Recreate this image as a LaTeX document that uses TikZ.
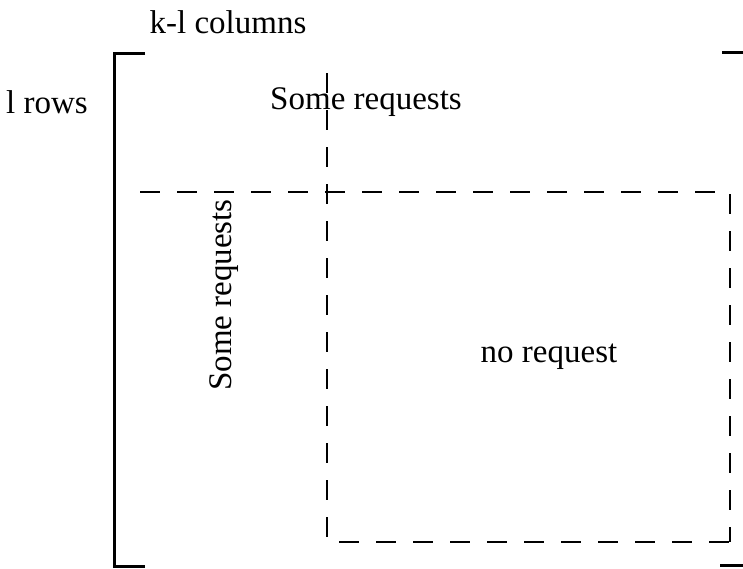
\documentclass[tikz,border=0pt]{standalone}
\usepackage{fontspec}
\setmainfont{Liberation Serif}
\begin{document}
\begin{tikzpicture}[x=1pt,y=-1pt,
  solidline/.style={line width=3pt},
  dashline/.style={line width=2.5pt, dash pattern=on 20pt off 17pt},
  lbl/.style={font=\fontsize{33}{36}\selectfont, inner sep=0pt}]
\useasboundingbox (0,0) rectangle (743,568);
% bracket
\coordinate (bt) at (145,53);
\coordinate (blt) at (114,53);
\coordinate (blb) at (114,566);
\coordinate (bb) at (145,566);
\draw[solidline] (bt) -- (blt) -- (blb) -- (bb);
\coordinate (rt1) at (722,52);
\coordinate (rt2) at (743,52);
\draw[solidline] (rt1) -- (rt2);
\coordinate (rb1) at (720,565);
\coordinate (rb2) at (743,565);
\draw[solidline] (rb1) -- (rb2);
% dashed lines
\coordinate (vtop) at (327,73);
\coordinate (vbot) at (327,542);
\coordinate (hl) at (140,192);
\coordinate (hr) at (730,192);
\coordinate (br) at (730,542);
\draw[dashline] (vtop) -- (vbot) -- (br);
\draw[dashline] (hl) -- (hr) -- (br);
% labels
\node[lbl] (cols) at (228,22) {k-l columns};
\node[lbl] (rows) at (47,102) {l rows};
\node[lbl] (sr1) at (366,102) {Some requests};
\node[lbl, rotate=90] (sr2) at (224,295) {Some requests};
\node[lbl] (nr) at (549,357) {no request};
\end{tikzpicture}
\end{document}
